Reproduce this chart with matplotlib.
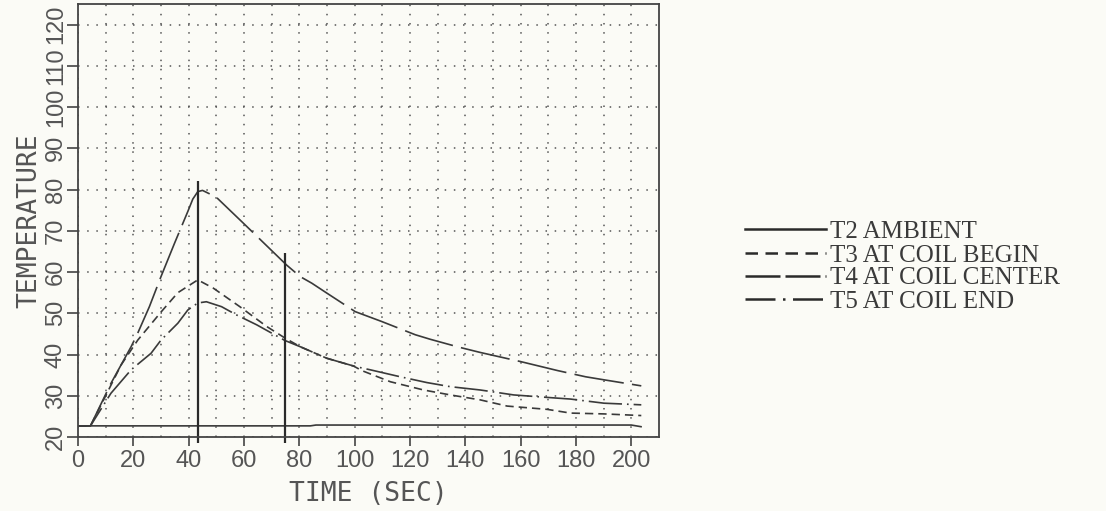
import matplotlib
matplotlib.use("Agg")
import matplotlib.pyplot as plt
from matplotlib import font_manager
from matplotlib.lines import Line2D

# ---------------- data ----------------
t2_time = [0, 84, 86, 200, 203.5]
t2_temp = [22.7, 22.7, 22.9, 22.9, 22.5]

t3_time = [0, 4.5, 10, 15.6, 21.6, 30, 36.1, 43.3, 48.9, 58.5, 68.2, 74.8, 80.3, 85.1,
           89.9, 99.6, 102.6, 112.9, 124.9, 134.6, 145.4, 155.1, 169.6, 178, 190.1, 203.6]
t3_temp = [22.7, 22.7, 30, 37.5, 43.5, 50.3, 55.0, 58.1, 56.1, 51.6, 46.8, 44.0, 41.9, 40.5,
           39.1, 37.2, 36.1, 33.4, 31.4, 30.2, 29.0, 27.5, 26.7, 25.8, 25.6, 25.2]

t4_time = [0, 4.5, 11.9, 19.2, 21.6, 25.8, 30, 34.9, 39.7, 41.5, 43.3, 45, 49.9, 60, 75.4,
           80.3, 84.5, 89.7, 100.2, 109.8, 121.9, 127.3, 137.6, 145.4, 159.9, 173.4, 183.5,
           188.9, 203.6]
t4_temp = [22.7, 22.7, 33, 41.9, 45.2, 51.6, 58.9, 67, 74.7, 77.7, 79.5, 79.8, 78.2, 71.7,
           61.7, 58.9, 57.3, 55.0, 50.4, 48.0, 44.8, 43.7, 41.8, 40.5, 38.3, 36.1, 34.6,
           34.0, 32.4]

t5_time = [0, 4.5, 11.9, 19.2, 26.4, 30, 36.1, 39.7, 43.3, 46.4, 51.9, 57.3, 64.6, 74.8,
           80.3, 89.9, 100.2, 105.6, 116.5, 126.1, 134.6, 145.4, 157.5, 169.6, 178, 190.1, 203.6]
t5_temp = [22.7, 22.7, 30.6, 36.3, 40.3, 43.5, 47.6, 50.8, 52.5, 52.8, 51.6, 49.6, 47.2, 43.4,
           41.9, 39.1, 37.1, 36.3, 34.6, 33.2, 32.2, 31.4, 30.2, 29.6, 29.2, 28.2, 27.8]

marker_times = [43.3, 74.9]
marker_tops = [82.0, 64.7]
marker_bottom = 18.6

series_labels = ["T2 AMBIENT", "T3 AT COIL BEGIN", "T4 AT COIL CENTER", "T5 AT COIL END"]
x_ticks = list(range(0, 201, 20))
y_ticks = list(range(20, 121, 10))
x_label = "TIME (SEC)"
y_label = "TEMPERATURE"

# ---------------- fonts ----------------
names = {f.name for f in font_manager.fontManager.ttflist}
tick_family = "Liberation Sans" if "Liberation Sans" in names else "DejaVu Sans"
tick_size = 17
label_family = "DejaVu Sans Mono"
legend_family = "Liberation Serif" if "Liberation Serif" in names else "DejaVu Serif"

bg = "#fbfbf6"
ink = "#3a3a3a"
txt = "#555555"

fig = plt.figure(figsize=(11.06, 5.11), dpi=100, facecolor=bg)
ax = fig.add_axes([78 / 1106, 1 - 437 / 511, (659 - 78) / 1106, (437 - 4) / 511])
ax.set_facecolor(bg)

styles = [
    dict(linestyle="-"),
    dict(linestyle=(0, (5, 3))),
    dict(linestyle=(0, (30, 5))),
    dict(linestyle=(0, (20, 3, 1, 3))),
]
legend_styles = [
    dict(linestyle="-"),
    dict(linestyle=(0, (5, 3))),
    dict(linestyle=(0, (14, 2))),
    dict(linestyle=(0, (12, 3, 1, 3))),
]
data = [(t2_time, t2_temp), (t3_time, t3_temp), (t4_time, t4_temp), (t5_time, t5_temp)]
for (tx, ty), st in zip(data, styles):
    ax.plot(tx, ty, color=ink, lw=1.2, **st)

ax.vlines(marker_times, marker_bottom, marker_tops, colors="#2a2a2a", lw=1.6, clip_on=False)

ax.set_xlim(0, 210)
ax.set_ylim(20, 125)
ax.set_xticks(x_ticks)
ax.set_yticks(y_ticks)
ax.set_xticks(range(10, 210, 10), minor=True)
ax.tick_params(axis="x", which="minor", length=0)
ax.grid(True, which="both", axis="x", color="#555555", lw=1.1, linestyle=(0, (1, 5)))
ax.grid(True, which="major", axis="y", color="#555555", lw=1.1, linestyle=(0, (1, 5)))
ax.set_axisbelow(True)

ax.tick_params(axis="x", which="major", direction="out", length=6.5, width=1.2, color="#444444",
               pad=3, labelsize=tick_size, labelcolor=txt)
ax.tick_params(axis="y", which="major", direction="out", length=8, width=1.2, color="#444444",
               pad=0, labelsize=tick_size, labelcolor=txt)
for lab in ax.get_xticklabels() + ax.get_yticklabels():
    lab.set_family(tick_family)
for lab in ax.get_yticklabels():
    lab.set_rotation(90)
    lab.set_va("center")

for s in ax.spines.values():
    s.set_color("#444444")
    s.set_linewidth(1.3)

ax.set_xlabel(x_label, family=label_family, fontsize=19, color=txt, labelpad=6)
ax.set_ylabel(y_label, family=label_family, fontsize=19, color=txt, labelpad=2)

# legend drawn manually in figure pixels
rows_y = [229, 253, 276, 299]
for lbl, st, yy in zip(series_labels, legend_styles, rows_y):
    fy = 1 - yy / 511
    fig.add_artist(Line2D([745 / 1106, 826 / 1106], [fy, fy], color="#2a2a2a", lw=1.8,
                          transform=fig.transFigure, **st))
    fig.text(830 / 1106, fy, lbl, family=legend_family, fontsize=18, color="#3a3a3a",
             va="center_baseline", ha="left")

fig.savefig("out.png", dpi=100, facecolor=bg)
